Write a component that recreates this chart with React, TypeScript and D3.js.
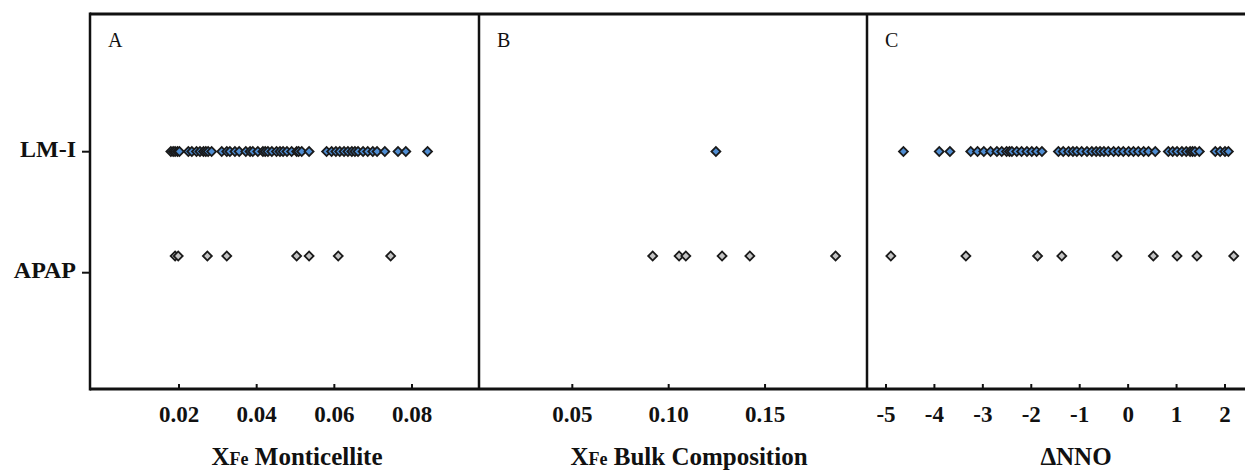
import React from "react";
import * as d3 from "d3";

const categories = ["LM-I", "APAP"];

const monticelliteLMI = [
  0.0179, 0.0185, 0.019, 0.0196, 0.0201, 0.0224, 0.0233, 0.0245, 0.0254, 0.0263, 0.0269, 0.0275, 0.0284,
  0.031, 0.0323, 0.0331, 0.0344, 0.0355, 0.0372, 0.0383, 0.039, 0.0403, 0.0416, 0.0422, 0.0429, 0.0439,
  0.0451, 0.046, 0.0468, 0.0478, 0.049, 0.0503, 0.0508, 0.0516, 0.0535, 0.058, 0.0593, 0.0604, 0.0614,
  0.0625, 0.0635, 0.0645, 0.0653, 0.0661, 0.0674, 0.0686, 0.0699, 0.071, 0.073, 0.0764, 0.0784, 0.084,
];
const monticelliteAPAP = [0.019, 0.0198, 0.0273, 0.0323, 0.0503, 0.0535, 0.061, 0.0745];

const bulkLMI = [0.1245];
const bulkAPAP = [0.0917, 0.1054, 0.1089, 0.1277, 0.1421, 0.1866];

const nnoLMI = [
  -4.64, -3.9, -3.68, -3.25, -3.11, -2.98, -2.84, -2.71, -2.61, -2.51, -2.45, -2.4, -2.3, -2.2, -2.09,
  -1.99, -1.89, -1.78, -1.44, -1.34, -1.23, -1.14, -1.06, -0.96, -0.85, -0.75, -0.66, -0.58, -0.5, -0.41,
  -0.3, -0.2, -0.1, 0.01, 0.11, 0.21, 0.32, 0.42, 0.56, 0.83, 0.92, 1.01, 1.11, 1.2, 1.28, 1.33, 1.38,
  1.47, 1.8, 1.9, 2.0, 2.07,
];
const nnoAPAP = [-4.9, -3.35, -1.87, -1.37, -0.23, 0.52, 1.01, 1.42, 2.18];

const ticksA = [0.02, 0.04, 0.06, 0.08];
const tickLabelsA = ["0.02", "0.04", "0.06", "0.08"];
const ticksB = [0.05, 0.1, 0.15];
const tickLabelsB = ["0.05", "0.10", "0.15"];
const ticksC = [-5, -4, -3, -2, -1, 0, 1, 2];
const tickLabelsC = ["-5", "-4", "-3", "-2", "-1", "0", "1", "2"];

const W = 1245;
const H = 472;
const TOP = 14;
const BOTTOM = 389;
const LEFT = 90;
const FONT = "'Liberation Serif', 'Times New Roman', serif";

const panels = [
  {
    letter: "A",
    x: d3.scaleLinear().domain([-0.00292, 0.09725]).range([90, 479]),
    lmi: monticelliteLMI,
    apap: monticelliteAPAP,
    ticks: ticksA,
    labels: tickLabelsA,
    titleMain: " Monticellite",
    titleX: "X",
    titleSub: "Fe",
    titleCenter: 297,
  },
  {
    letter: "B",
    x: d3.scaleLinear().domain([0.00158, 0.2029]).range([479, 867]),
    lmi: bulkLMI,
    apap: bulkAPAP,
    ticks: ticksB,
    labels: tickLabelsB,
    titleMain: " Bulk Composition",
    titleX: "X",
    titleSub: "Fe",
    titleCenter: 689,
  },
  {
    letter: "C",
    x: d3.scaleLinear().domain([-5.392, 2.413]).range([867, 1245]),
    lmi: nnoLMI,
    apap: nnoAPAP,
    ticks: ticksC,
    labels: tickLabelsC,
    titleMain: "ΔNNO",
    titleX: "",
    titleSub: "",
    titleCenter: 1076,
  },
];

const yPoints = d3.scalePoint<string>().domain(categories).range([151.5, 256]);
const yLabels = d3.scalePoint<string>().domain(categories).range([151.7, 272.7]);

const diamond = d3.symbol().type(d3.symbolSquare).size(40)() as string;

const fills: Record<string, string> = { "LM-I": "#4f8dd2", APAP: "#c4c4c4" };

export default function App() {
  return (
    <svg
      width={W}
      height={H}
      style={{ position: "absolute", left: 0, top: 0, background: "#fff" }}
      fontFamily={FONT}
    >
      <rect x={0} y={0} width={W} height={H} fill="#fff" />
      {panels.map((p) => {
        const series: [string, number[]][] = [
          ["LM-I", p.lmi],
          ["APAP", p.apap],
        ];
        const [r0] = p.x.range();
        return (
          <g key={p.letter}>
            <text x={r0 + 18} y={47} fontSize={20} fill="#111">
              {p.letter}
            </text>
            {p.ticks.map((t, i) => (
              <g key={i}>
                <line x1={p.x(t)} x2={p.x(t)} y1={384} y2={389} stroke="#111" strokeWidth={2} />
                <text
                  x={p.x(t)}
                  y={422}
                  textAnchor="middle"
                  fontSize={23}
                  fontWeight="bold"
                  fill="#111"
                >
                  {p.labels[i]}
                </text>
              </g>
            ))}
            {series.map(([cat, vals]) =>
              vals.map((v, i) => (
                <path
                  key={cat + i}
                  d={diamond}
                  transform={`translate(${p.x(v)},${yPoints(cat)}) rotate(45)`}
                  fill={fills[cat]}
                  stroke="#1a1a1a"
                  strokeWidth={1.8}
                />
              ))
            )}
            <text
              x={p.titleCenter}
              y={465}
              textAnchor="middle"
              fontSize={25}
              fontWeight="bold"
              fill="#111"
            >
              {p.titleX}
              {p.titleSub ? <tspan fontSize={18}>{p.titleSub}</tspan> : null}
              {p.titleMain}
            </text>
          </g>
        );
      })}
      {/* frame */}
      <line x1={LEFT} x2={W + 5} y1={TOP} y2={TOP} stroke="#111" strokeWidth={3} />
      <line x1={LEFT} x2={W + 5} y1={BOTTOM} y2={BOTTOM} stroke="#111" strokeWidth={3} />
      <line x1={LEFT} x2={LEFT} y1={TOP - 1.5} y2={BOTTOM + 1.5} stroke="#111" strokeWidth={2.5} />
      {panels.slice(1).map((p) => (
        <line
          key={"div" + p.letter}
          x1={p.x.range()[0]}
          x2={p.x.range()[0]}
          y1={TOP}
          y2={BOTTOM}
          stroke="#111"
          strokeWidth={2.5}
        />
      ))}
      {categories.map((c) => (
        <g key={c}>
          <line x1={82} x2={LEFT} y1={yLabels(c)} y2={yLabels(c)} stroke="#111" strokeWidth={2} />
          <text
            x={76}
            y={(yLabels(c) as number) + 5}
            textAnchor="end"
            fontSize={24}
            fontWeight="bold"
            fill="#111"
          >
            {c}
          </text>
        </g>
      ))}
    </svg>
  );
}
